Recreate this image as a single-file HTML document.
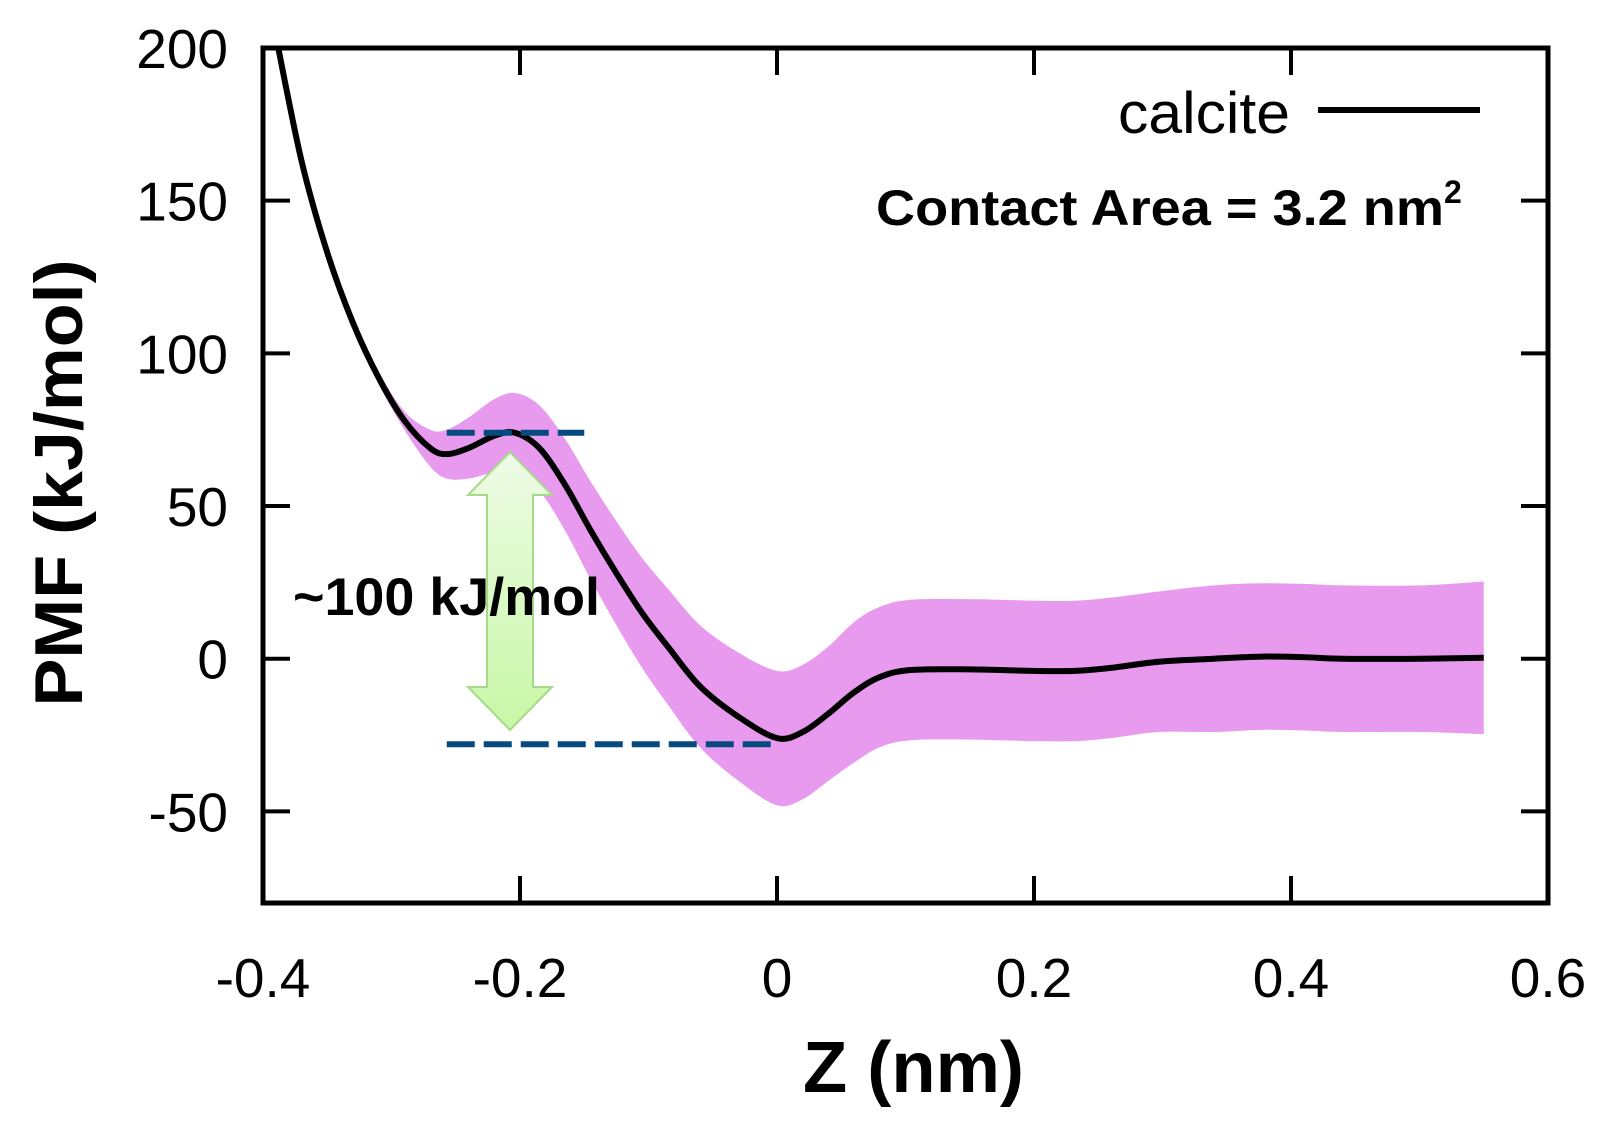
<!DOCTYPE html>
<html><head><meta charset="utf-8"><style>
html,body{margin:0;padding:0;background:#fff;}
svg{display:block;font-family:"Liberation Sans",sans-serif;}
</style></head><body>
<svg id="chart" width="1623" height="1122" viewBox="0 0 1623 1122">
<defs>
<linearGradient id="ag" x1="0" y1="0" x2="0" y2="1"><stop offset="0" stop-color="#eefbe6"/><stop offset="1" stop-color="#c8f7a6"/></linearGradient>
</defs>
<g id="plot"></g>
</svg>
<script>
const zs  = [-0.39,-0.37,-0.35,-0.33,-0.31,-0.29,-0.27,-0.257,-0.24,-0.22,-0.204,-0.185,-0.165,-0.145,-0.125,-0.105,-0.085,-0.06,-0.03,0,0.02,0.04,0.06,0.08,0.104,0.15,0.2,0.232,0.26,0.297,0.34,0.377,0.41,0.441,0.5,0.55];
const pmf = [204,163,133,110,92,78,69,67,69,73,74,69,57,42,28,15,4,-9,-19,-26,-24,-18,-11,-6,-3.7,-3.5,-4,-4,-3,-1,0,0.7,0.5,0,0,0.3];
const err = [0,0.5,1,1.5,2,3,6,8,10,12,13,14,15,16,17,18,19,20,21,22,22,22,23,23,23,23,23,23,23,23,24,24,24,24,24,25];
const xTicks = [-0.4,-0.2,0,0.2,0.4,0.6];
const xTickLabels = ["-0.4","-0.2","0","0.2","0.4","0.6"];
const yTicks = [-50,0,50,100,150,200];
const yTickLabels = ["-50","0","50","100","150","200"];
const barrierTop = 74, barrierBottom = -28;

const L=263,R=1548,T=48,B=903,XMIN=-0.4,XMAX=0.6,YMIN=-80,YMAX=200;
const X=v=>L+(v-XMIN)/(XMAX-XMIN)*(R-L);
const Y=v=>B-(v-YMIN)/(YMAX-YMIN)*(B-T);
const NS="http://www.w3.org/2000/svg";
const g=document.getElementById('plot');
function mk(t,a,p){const e=document.createElementNS(NS,t);for(const k in a)e.setAttribute(k,a[k]);(p||g).appendChild(e);return e;}
function smooth(pts){let d=`M${pts[0][0]},${pts[0][1]}`;for(let i=0;i<pts.length-1;i++){const p0=pts[Math.max(0,i-1)],p1=pts[i],p2=pts[i+1],p3=pts[Math.min(pts.length-1,i+2)];
const c1=[p1[0]+(p2[0]-p0[0])/6,p1[1]+(p2[1]-p0[1])/6],c2=[p2[0]-(p3[0]-p1[0])/6,p2[1]-(p3[1]-p1[1])/6];
d+=`C${c1[0]},${c1[1]} ${c2[0]},${c2[1]} ${p2[0]},${p2[1]}`;}return d;}

const cp=mk('clipPath',{id:'cp'});mk('rect',{x:L,y:T,width:R-L,height:B-T},cp);
const up=zs.map((z,i)=>[X(z),Y(pmf[i]+err[i])]);
const lo=zs.map((z,i)=>[X(z),Y(pmf[i]-err[i])]).reverse();
const band=mk('path',{d:smooth(up)+smooth(lo).replace('M','L')+'Z',fill:'#e89aee','clip-path':'url(#cp)'});


const line=mk('path',{d:smooth(zs.map((z,i)=>[X(z),Y(pmf[i])])),fill:'none',stroke:'#000','stroke-width':6,'clip-path':'url(#cp)'});



const d1=mk('line',{x1:X(-0.257),x2:X(-0.15),y1:Y(barrierTop),y2:Y(barrierTop),stroke:'#074a80','stroke-width':6,'stroke-dasharray':'28 9'});


const d2=mk('line',{x1:X(-0.257),x2:X(-0.004),y1:Y(barrierBottom),y2:Y(barrierBottom),stroke:'#074a80','stroke-width':6,'stroke-dasharray':'28 9'});



const cx=510,ty=452,by=730,hw=42,sw=23,hh=43;
const ar=mk('path',{d:`M${cx},${ty} L${cx+hw},${ty+hh} L${cx+sw},${ty+hh} L${cx+sw},${by-hh} L${cx+hw},${by-hh} L${cx},${by} L${cx-hw},${by-hh} L${cx-sw},${by-hh} L${cx-sw},${ty+hh} L${cx-hw},${ty+hh} Z`,fill:'url(#ag)',stroke:'#a6d98a','stroke-width':2});


const at=mk('text',{x:293,y:615,'font-size':53,'font-weight':'bold',textLength:307,lengthAdjust:'spacingAndGlyphs'});at.textContent='~100 kJ/mol';



const fr=mk('rect',{x:L,y:T,width:R-L,height:B-T,fill:'none',stroke:'#000','stroke-width':5});


xTicks.forEach((v,i)=>{
 if(i>0&&i<xTicks.length-1){mk('line',{x1:X(v),x2:X(v),y1:B,y2:B-27,stroke:'#000','stroke-width':4});mk('line',{x1:X(v),x2:X(v),y1:T,y2:T+27,stroke:'#000','stroke-width':4});}
 const t=mk('text',{x:X(v),y:997,'font-size':55,'text-anchor':'middle'});t.textContent=xTickLabels[i];
 
 
});
yTicks.forEach((v,i)=>{
 if(v<200){mk('line',{x1:L,x2:L+27,y1:Y(v),y2:Y(v),stroke:'#000','stroke-width':4});mk('line',{x1:R,x2:R-27,y1:Y(v),y2:Y(v),stroke:'#000','stroke-width':4});}
 const t=mk('text',{x:228,y:Y(v)+20,'font-size':55,'text-anchor':'end'});t.textContent=yTickLabels[i];
 
 
});
const xt=mk('text',{x:803,y:1092,'font-size':72,'font-weight':'bold',textLength:221,lengthAdjust:'spacingAndGlyphs'});xt.textContent='Z (nm)';


const yt=mk('text',{x:0,y:0,'font-size':68,'font-weight':'bold','text-anchor':'middle',textLength:447,lengthAdjust:'spacingAndGlyphs',transform:'translate(82,483) rotate(-90)'});yt.textContent='PMF (kJ/mol)';


const lt=mk('text',{x:1118,y:133,'font-size':58,textLength:172,lengthAdjust:'spacingAndGlyphs'});lt.textContent='calcite';


const ll=mk('line',{x1:1318,x2:1480,y1:110,y2:110,stroke:'#000','stroke-width':6});


const ca=mk('text',{x:876,y:225,'font-size':50,'font-weight':'bold'});ca.innerHTML='<tspan textLength="568" lengthAdjust="spacingAndGlyphs">Contact Area = 3.2 nm</tspan><tspan font-size="32" dy="-22">2</tspan>';


</script>
</body></html>
